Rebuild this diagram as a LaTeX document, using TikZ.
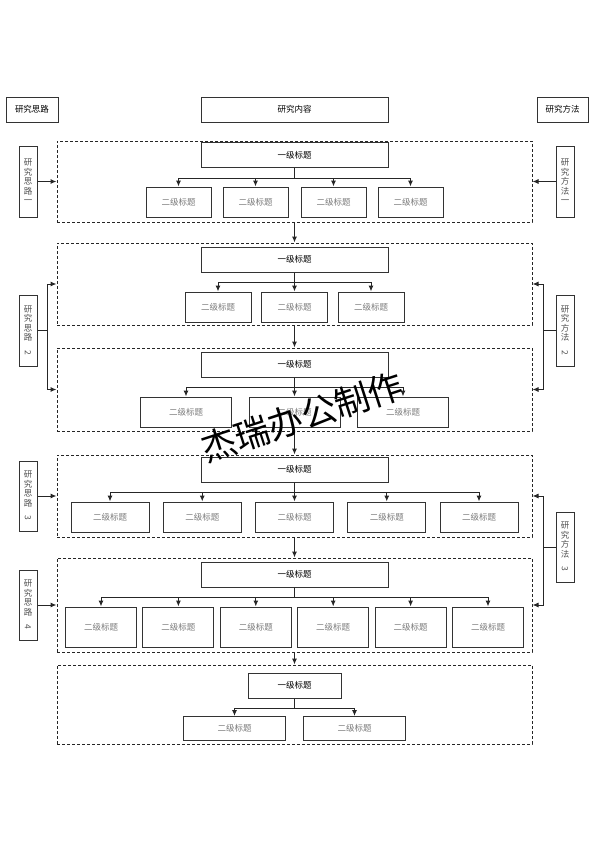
\documentclass[tikz,border=0pt]{standalone}
\usepackage{fontspec}
\usepackage{graphicx}
\usepackage{xcolor}
\newfontfamily\cjk{Noto Sans CJK SC}
\usetikzlibrary{arrows.meta}
\definecolor{boxline}{HTML}{333333}
\definecolor{subtext}{HTML}{7a7a7a}
\definecolor{sidetext}{HTML}{505050}

\begin{document}
\begin{tikzpicture}[
  x=1pt, y=-1pt,
  font=\cjk\fontsize{8.5}{10}\selectfont,
  every node/.style={align=center},
  headbox/.style={rectangle, draw=boxline, line width=1pt,
                  minimum height=25, inner sep=0pt},
  firstbox/.style={rectangle, draw=boxline, line width=1pt,
                   minimum width=187, minimum height=25, inner sep=0pt},
  secondbox/.style={rectangle, draw=boxline, line width=1pt,
                    minimum height=30, inner sep=0pt, text=subtext},
  sidebox/.style={rectangle, draw=boxline, line width=1pt,
                  minimum width=18, inner sep=0pt, text=sidetext,
                  font=\cjk\fontsize{8.5}{9.5}\selectfont},
  groupframe/.style={rectangle, draw=black!85, line width=1pt,
                     dash pattern=on 3pt off 2pt, minimum width=475, inner sep=0pt},
  conn/.style={line width=1pt, draw=black!85},
  >={Latex[length=6pt,width=5pt]}
]
\useasboundingbox (0,0) rectangle (594,841);

% ---- Column heads -------------------------------------------------------------
\node[headbox, minimum width=52]  (silu)    at (32,109.5)    {研究思路};
\node[headbox, minimum width=187] (neirong) at (294.5,109.5) {研究内容};
\node[headbox, minimum width=51]  (fangfa)  at (562.5,109.5) {研究方法};

% ---- Group 1 ------------------------------------------------------------------
\node[groupframe, minimum height=81] (g1) at (294.5,181.5) {};
\node[firstbox] (t1) at (294.5,155) {一级标题};
\node[secondbox, minimum width=65] (s11) at (178.5,202) {二级标题};
\node[secondbox, minimum width=65] (s12) at (255.5,202) {二级标题};
\node[secondbox, minimum width=65] (s13) at (333.5,202) {二级标题};
\node[secondbox, minimum width=65] (s14) at (410.5,202) {二级标题};

\draw[conn, ->] (t1.south) -- ++(0,10) -| (s11.north);
\draw[conn, ->] (t1.south) -- ++(0,10) -| (s12.north);
\draw[conn, ->] (t1.south) -- ++(0,10) -| (s13.north);
\draw[conn, ->] (t1.south) -- ++(0,10) -| (s14.north);

% ---- Group 2 ------------------------------------------------------------------
\node[groupframe, minimum height=82] (g2) at (294.5,284) {};
\node[firstbox] (t2) at (294.5,259.5) {一级标题};
\node[secondbox, minimum width=66] (s21) at (218,307)   {二级标题};
\node[secondbox, minimum width=66] (s22) at (294.5,307) {二级标题};
\node[secondbox, minimum width=66] (s23) at (371,307)   {二级标题};

\draw[conn, ->] (t2.south) -- ++(0,10) -| (s21.north);
\draw[conn, ->] (t2.south) -- (s22.north);
\draw[conn, ->] (t2.south) -- ++(0,10) -| (s23.north);

% ---- Group 3 ------------------------------------------------------------------
\node[groupframe, minimum height=83] (g3) at (294.5,389.5) {};
\node[firstbox] (t3) at (294.5,364.5) {一级标题};
\node[secondbox, minimum width=91] (s31) at (186,412)   {二级标题};
\node[secondbox, minimum width=91] (s32) at (294.5,412) {二级标题};
\node[secondbox, minimum width=91] (s33) at (403,412)   {二级标题};

\draw[conn, ->] (t3.south) -- ++(0,10) -| (s31.north);
\draw[conn, ->] (t3.south) -- (s32.north);
\draw[conn, ->] (t3.south) -- ++(0,10) -| (s33.north);

% ---- Group 4 ------------------------------------------------------------------
\node[groupframe, minimum height=82] (g4) at (294.5,496) {};
\node[firstbox] (t4) at (294.5,469.5) {一级标题};
\node[secondbox, minimum width=78] (s41) at (110,517)    {二级标题};
\node[secondbox, minimum width=78] (s42) at (202.25,517) {二级标题};
\node[secondbox, minimum width=78] (s43) at (294.5,517)  {二级标题};
\node[secondbox, minimum width=78] (s44) at (386.75,517) {二级标题};
\node[secondbox, minimum width=78] (s45) at (479,517)    {二级标题};

\draw[conn, ->] (t4.south) -- ++(0,10) -| (s41.north);
\draw[conn, ->] (t4.south) -- ++(0,10) -| (s42.north);
\draw[conn, ->] (t4.south) -- (s43.north);
\draw[conn, ->] (t4.south) -- ++(0,10) -| (s44.north);
\draw[conn, ->] (t4.south) -- ++(0,10) -| (s45.north);

% ---- Group 5 ------------------------------------------------------------------
\node[groupframe, minimum height=94] (g5) at (294.5,605) {};
\node[firstbox] (t5) at (294.5,574.5) {一级标题};
\node[secondbox, minimum width=71, minimum height=40] (s51) at (101,627)   {二级标题};
\node[secondbox, minimum width=71, minimum height=40] (s52) at (178.4,627) {二级标题};
\node[secondbox, minimum width=71, minimum height=40] (s53) at (255.8,627) {二级标题};
\node[secondbox, minimum width=71, minimum height=40] (s54) at (333.2,627) {二级标题};
\node[secondbox, minimum width=71, minimum height=40] (s55) at (410.6,627) {二级标题};
\node[secondbox, minimum width=71, minimum height=40] (s56) at (488,627)   {二级标题};

\draw[conn, ->] (t5.south) -- ++(0,10) -| (s51.north);
\draw[conn, ->] (t5.south) -- ++(0,10) -| (s52.north);
\draw[conn, ->] (t5.south) -- ++(0,10) -| (s53.north);
\draw[conn, ->] (t5.south) -- ++(0,10) -| (s54.north);
\draw[conn, ->] (t5.south) -- ++(0,10) -| (s55.north);
\draw[conn, ->] (t5.south) -- ++(0,10) -| (s56.north);

% ---- Group 6 ------------------------------------------------------------------
\node[groupframe, minimum height=79] (g6) at (294.5,704.5) {};
\node[firstbox, minimum width=93] (t6) at (294.5,685.5) {一级标题};
\node[secondbox, minimum width=102, minimum height=24] (s61) at (234.5,728.5) {二级标题};
\node[secondbox, minimum width=102, minimum height=24] (s62) at (354.5,728.5) {二级标题};

\draw[conn, ->] (t6.south) -- ++(0,10) -| (s61.north);
\draw[conn, ->] (t6.south) -- ++(0,10) -| (s62.north);

% ---- Flow between groups ----------------------------------------------------------
\draw[conn, ->] (g1.south) -- (g2.north);
\draw[conn, ->] (g2.south) -- (g3.north);
\draw[conn, ->] (g3.south) -- (g4.north);
\draw[conn, ->] (g4.south) -- (g5.north);
\draw[conn, ->] (g5.south) -- (g6.north);

% ---- Left side: research ideas ---------------------------------------------------
\node[sidebox, minimum height=71] (silu1) at (28,181.5) {研\\究\\思\\路\\一};
\node[sidebox, minimum height=71] (silu2) at (28,330.5) {研\\究\\思\\路\\\rotatebox{-90}{2}};
\node[sidebox, minimum height=70] (silu3) at (28,496)   {研\\究\\思\\路\\\rotatebox{-90}{3}};
\node[sidebox, minimum height=70] (silu4) at (28,605)   {研\\究\\思\\路\\\rotatebox{-90}{4}};

\draw[conn, ->] (silu1.east) -- (g1.west);
\draw[conn, ->] (silu2.east) -- ++(10,0) |- (g2.west);
\draw[conn, ->] (silu2.east) -- ++(10,0) |- (g3.west);
\draw[conn, ->] (silu3.east) -- (g4.west);
\draw[conn, ->] (silu4.east) -- (g5.west);

% ---- Right side: research methods ------------------------------------------------
\node[sidebox, minimum height=71] (fangfa1) at (565,181.5) {研\\究\\方\\法\\一};
\node[sidebox, minimum height=71] (fangfa2) at (565,330.5) {研\\究\\方\\法\\\rotatebox{-90}{2}};
\node[sidebox, minimum height=70] (fangfa3) at (565,547)   {研\\究\\方\\法\\\rotatebox{-90}{3}};

\draw[conn, ->] (fangfa1.west) -- (g1.east);
\draw[conn, ->] (fangfa2.west) -- ++(-12,0) |- (g2.east);
\draw[conn, ->] (fangfa2.west) -- ++(-12,0) |- (g3.east);
\draw[conn, ->] (fangfa3.west) -- ++(-12,0) |- (g4.east);
\draw[conn, ->] (fangfa3.west) -- ++(-12,0) |- (g5.east);

% Watermark across the middle
\node[rotate=18, font=\cjk\fontsize{35}{35}\selectfont, inner sep=0pt]
  (mark) at (302,417) {杰瑞办公制作};

\end{tikzpicture}
\end{document}
